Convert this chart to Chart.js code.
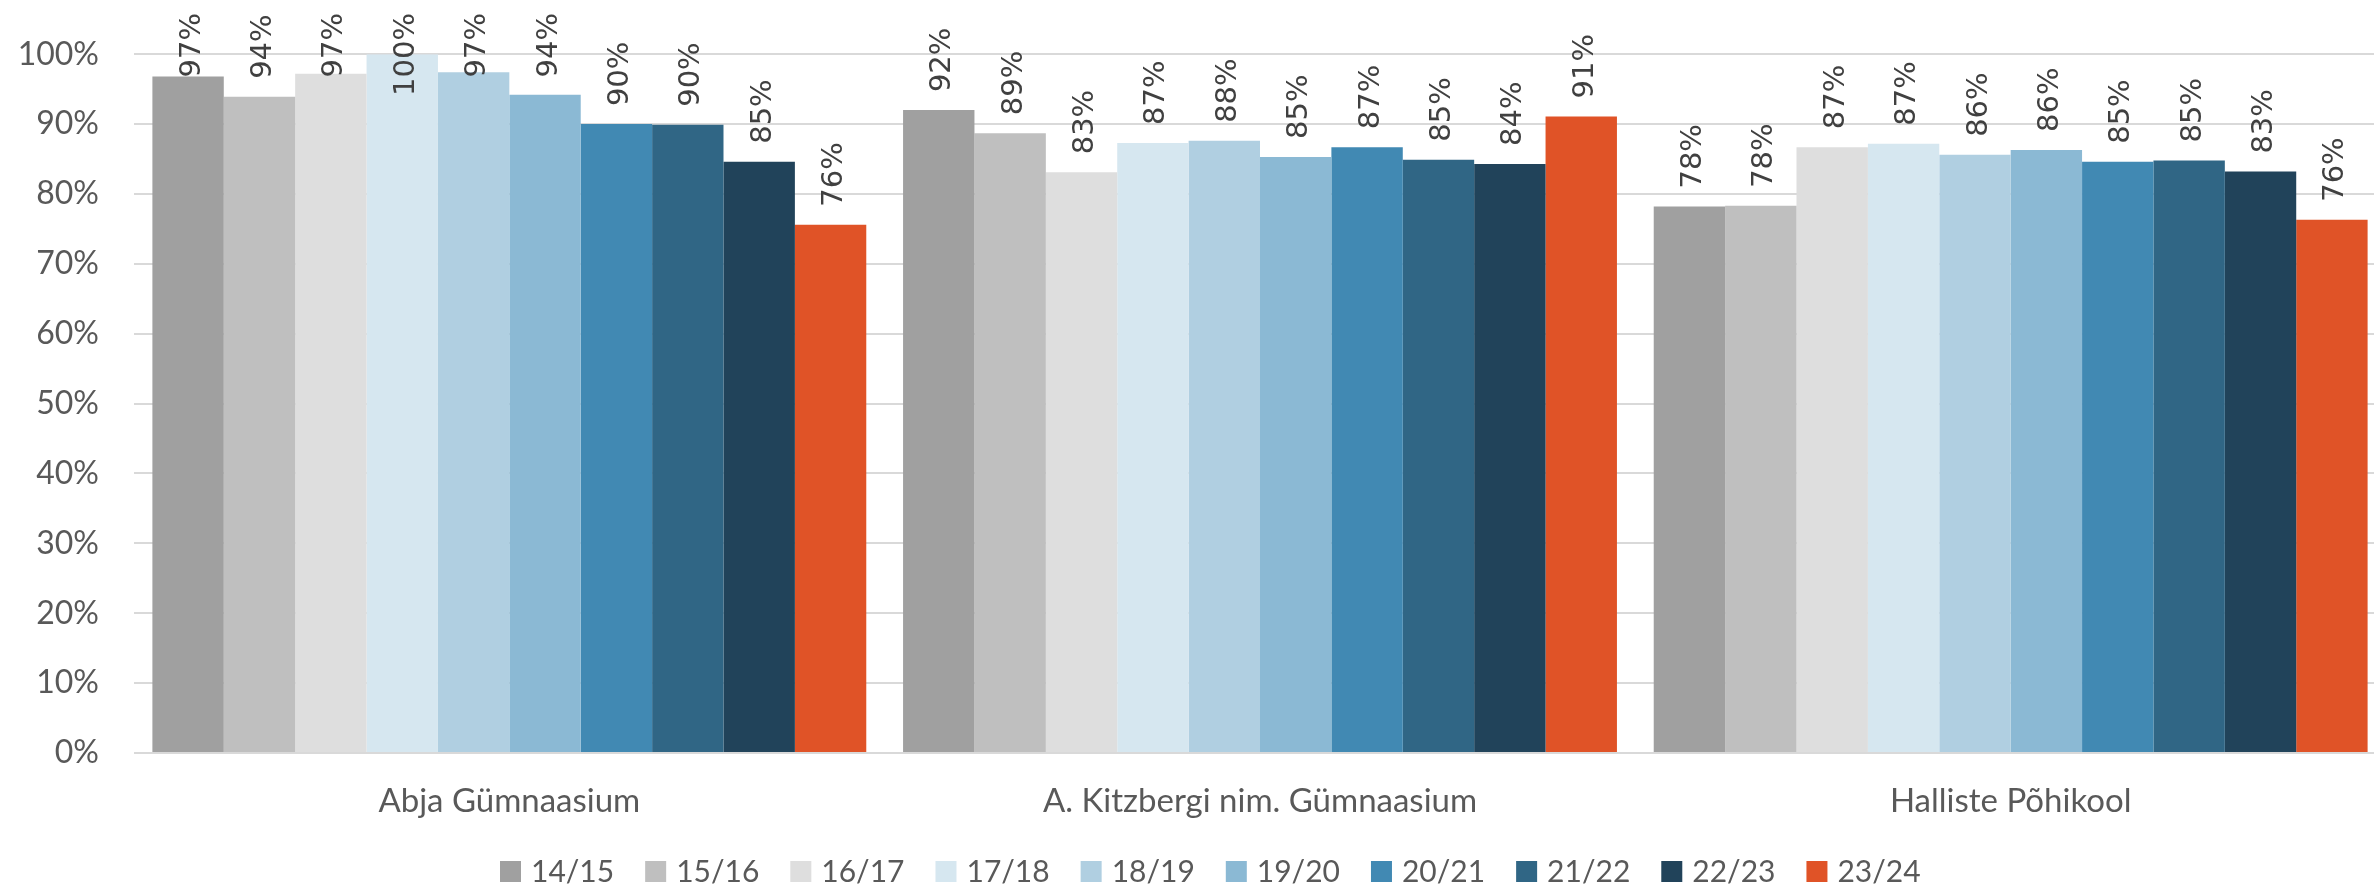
<!DOCTYPE html>
<html>
<head>
<meta charset="utf-8">
<script src="https://cdn.jsdelivr.net/npm/chart.js@4/dist/chart.umd.min.js"></script>
<style>
html,body{margin:0;padding:0;background:#fff;overflow:hidden;}
#wrap{width:2374px;height:891px;position:relative;overflow:hidden;}
canvas{position:absolute;left:0;top:0;}
</style>
</head>
<body>
<div id="wrap"><canvas id="c" width="2386" height="891"></canvas></div>
<script>
// ---- data ----
const schools = ["Abja Gümnaasium", "A. Kitzbergi nim. Gümnaasium", "Halliste Põhikool"];
const seasons = ["14/15", "15/16", "16/17", "17/18", "18/19", "19/20", "20/21", "21/22", "22/23", "23/24"];
const abja      = [0.968, 0.939, 0.972, 1.000, 0.974, 0.942, 0.900, 0.899, 0.846, 0.756];
const kitzbergi = [0.920, 0.887, 0.831, 0.873, 0.876, 0.853, 0.867, 0.849, 0.843, 0.911];
const halliste  = [0.782, 0.783, 0.867, 0.872, 0.856, 0.863, 0.846, 0.848, 0.832, 0.763];
const yTicks = [0, 0.1, 0.2, 0.3, 0.4, 0.5, 0.6, 0.7, 0.8, 0.9, 1.0];
const colors = ["#a0a0a0", "#bfbfbf", "#dedede", "#d6e7f0", "#b0cfe1", "#8bb9d4", "#4189b3", "#306685", "#21435a", "#e05327"];

const perSchool = [abja, kitzbergi, halliste];
const datasets = seasons.map((s, i) => ({
  label: s,
  data: perSchool.map(arr => arr[i]),
  backgroundColor: colors[i],
  borderWidth: 0,
  categoryPercentage: 0.951,
  barPercentage: 1.0
}));

const TEXT = "#595959";

const valueLabels = {
  id: "valueLabels",
  afterDatasetsDraw(chart) {
    const ctx = chart.ctx;
    ctx.save();
    ctx.font = "29px 'DejaVu Sans'";
    ctx.fillStyle = "#404040";
    ctx.textAlign = "left";
    ctx.textBaseline = "middle";
    chart.data.datasets.forEach((ds, di) => {
      const meta = chart.getDatasetMeta(di);
      meta.data.forEach((el, i) => {
        const v = ds.data[i];
        const txt = Math.round(v * 100) + "%";
        const w = ctx.measureText(txt).width;
        let bottom = el.y - 18;
        if (bottom - w < 13) bottom = 13 + w;
        ctx.save();
        ctx.translate(el.x + 4, bottom);
        ctx.rotate(-Math.PI / 2);
        ctx.fillText(txt, 0, 0);
        ctx.restore();
      });
    });
    ctx.restore();
  }
};

const customLegend = {
  id: "customLegend",
  afterDraw(chart) {
    const ctx = chart.ctx;
    ctx.save();
    ctx.font = "30px Lato";
    const box = 21, gap = 10, spacing = 31;
    let x = 500;
    const yBottom = 882;
    ctx.textBaseline = "alphabetic";
    ctx.textAlign = "left";
    chart.data.datasets.forEach(ds => {
      const w = ctx.measureText(ds.label).width;
      ctx.fillStyle = ds.backgroundColor;
      ctx.fillRect(x, yBottom - box, box, box);
      ctx.fillStyle = TEXT;
      ctx.fillText(ds.label, x + box + gap, yBottom);
      x += box + gap + w + spacing;
    });
    ctx.restore();
  }
};

new Chart(document.getElementById("c"), {
  type: "bar",
  data: { labels: schools, datasets },
  options: {
    responsive: false,
    animation: false,
    devicePixelRatio: 1,
    layout: { padding: { top: 40, bottom: 38, left: 0, right: 0 } },
    plugins: {
      legend: { display: false },
      tooltip: { enabled: false }
    },
    scales: {
      x: {
        grid: { display: false, drawTicks: false },
        border: { display: false },
        ticks: { color: TEXT, font: { family: "Lato", size: 33 }, padding: 29 },
        afterFit(scale) { scale.height = 100; }
      },
      y: {
        min: 0, max: 1,
        afterBuildTicks(scale) { scale.ticks = yTicks.map(v => ({ value: v })); },
        grid: { color: "#d9d9d9", lineWidth: 2, drawTicks: false },
        border: { display: false },
        ticks: {
          color: TEXT,
          font: { family: "Lato", size: 32 },
          padding: 35,
          callback: v => Math.round(v * 100) + "%"
        },
        afterFit(scale) { scale.width = 134; }
      }
    }
  },
  plugins: [valueLabels, customLegend]
});
</script>
</body>
</html>
